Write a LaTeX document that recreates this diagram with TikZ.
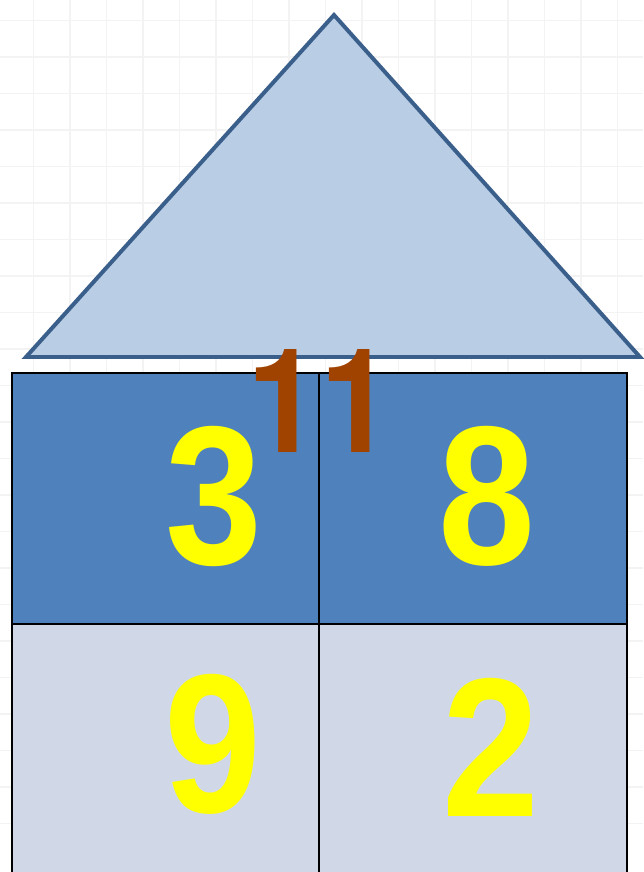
\documentclass[tikz,border=0pt]{standalone}
\usepackage{fontspec}
\setmainfont{Liberation Sans}
\newfontfamily\housefont[FakeStretch=0.88]{Liberation Sans Bold}
\newfontfamily\sumfont[FakeStretch=0.9]{TeX Gyre Heros}
\definecolor{roofblue}{HTML}{B9CDE5}
\definecolor{roofline}{HTML}{3A5F8B}
\definecolor{topcell}{HTML}{4F81BD}
\definecolor{lowcell}{HTML}{D0D8E8}
\definecolor{sumbrown}{HTML}{A04300}
\definecolor{digityellow}{HTML}{FFFF00}
\definecolor{faintgrid}{HTML}{F3F3F3}

\begin{document}
\begin{tikzpicture}[x=0.03cm, y=-0.03cm,
  digit/.style={inner sep=0pt, text=digityellow, font=\housefont\fontsize{169}{169}\selectfont},
  sumnum/.style={inner sep=0pt, text=sumbrown, font=\sumfont\bfseries\fontsize{124}{124}\selectfont},
]
  \useasboundingbox (0,0) rectangle (643,872);
  % faint paper grid
  \foreach \gx in {0,...,17} \draw[faintgrid, line width=1.4pt] (-3+36.5*\gx,0) -- (-3+36.5*\gx,872);
  \foreach \gy in {0,...,23} \draw[faintgrid, line width=1.4pt] (0,-16+36.5*\gy) -- (643,-16+36.5*\gy);
  % roof
  \coordinate (T) at (334,15);
  \coordinate (L) at (26,357);
  \coordinate (R) at (640,357);
  \draw[roofline, fill=roofblue, line width=3.4pt, line join=miter] (L) -- (T) -- (R) -- cycle;
  % house body
  \coordinate (A) at (12,373);
  \coordinate (B) at (627,373);
  \coordinate (M) at (319,373);
  \coordinate (E) at (12,624);
  \coordinate (F) at (627,624);
  \coordinate (G) at (12,880);
  \coordinate (H) at (627,880);
  \fill[topcell] (A) rectangle (F);
  \fill[lowcell] (E) rectangle (H);
  \draw[line width=1.7pt] (G) -- (A) -- (B) -- (H);
  \draw[line width=1.7pt] (E) -- (F);
  \draw[line width=1.7pt] (M) -- (M |- G);
  % numbers
  \node[digit] (three) at (214,496) {3};
  \node[digit] (eight) at (487,496) {8};
  \node[digit] (nine)  at (213,744) {9};
  \node[digit] (two)   at (491,747) {2};
  \node[sumnum] (eleven) at (320,401) {11};
\end{tikzpicture}
\end{document}
